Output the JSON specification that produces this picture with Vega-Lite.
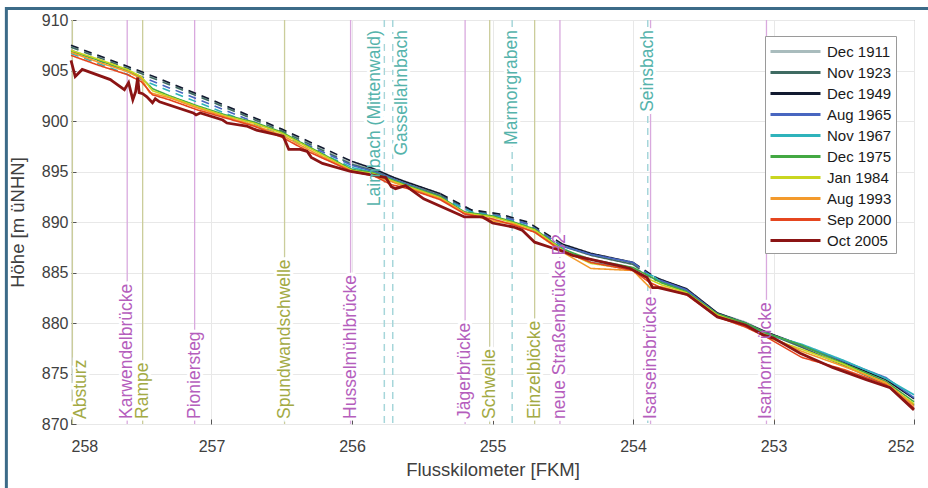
{
  "$schema": "https://vega.github.io/schema/vega-lite/v6.json",
  "width": 843,
  "height": 404,
  "autosize": {"type": "none"},
  "padding": {"left": 71, "top": 20, "right": 14, "bottom": 64},
  "background": "white",
  "config": {
    "font": "Liberation Sans",
    "view": {"stroke": "#9a9a9a", "strokeWidth": 1},
    "axis": {
      "grid": true, "gridColor": "#e8e8e8", "gridWidth": 1,
      "domain": false, "tickColor": "#555555", "tickSize": -5,
      "labelFontSize": 16, "labelColor": "#404040", "labelFont": "Liberation Sans",
      "titleFontSize": 18.5, "titleColor": "#404040", "titleFontWeight": "normal", "titleFont": "Liberation Sans"
    }
  },
  "datasets": {
    "landmarks": [
      {"name": "Absturz", "km": 257.99, "typ": "Bauwerk"},
      {"name": "Karwendelbrücke", "km": 257.6, "typ": "Brücke"},
      {"name": "Rampe", "km": 257.49, "typ": "Bauwerk"},
      {"name": "Pioniersteg", "km": 257.12, "typ": "Brücke"},
      {"name": "Spundwandschwelle", "km": 256.48, "typ": "Bauwerk"},
      {"name": "Husselmühlbrücke", "km": 256.01, "typ": "Brücke"},
      {"name": "Laimbach (Mittenwald)", "km": 255.77, "typ": "Zufluss"},
      {"name": "Gassellahnbach", "km": 255.71, "typ": "Zufluss"},
      {"name": "Jägerbrücke", "km": 255.195, "typ": "Brücke"},
      {"name": "Schwelle", "km": 255.02, "typ": "Bauwerk"},
      {"name": "Marmorgraben", "km": 254.86, "typ": "Zufluss"},
      {"name": "Einzelblöcke", "km": 254.7, "typ": "Bauwerk"},
      {"name": "neue Straßenbrücke B2", "km": 254.52, "typ": "Brücke"},
      {"name": "Seinsbach", "km": 253.895, "typ": "Zufluss"},
      {"name": "Isarseinsbrücke", "km": 253.875, "typ": "Brücke"},
      {"name": "Isarhornbrücke", "km": 253.05, "typ": "Brücke"}
    ],
    "profile": [
      {"messung": "Dec 1911", "abschnitt": 1, "art": "interpoliert", "km": 258.0, "hoehe": 907.4},
      {"messung": "Dec 1911", "abschnitt": 1, "art": "interpoliert", "km": 257.5, "hoehe": 904.8},
      {"messung": "Dec 1911", "abschnitt": 1, "art": "interpoliert", "km": 257.0, "hoehe": 902.0},
      {"messung": "Dec 1911", "abschnitt": 1, "art": "interpoliert", "km": 256.5, "hoehe": 899.1},
      {"messung": "Dec 1911", "abschnitt": 1, "art": "interpoliert", "km": 256.0, "hoehe": 895.8},
      {"messung": "Dec 1911", "abschnitt": 2, "art": "gemessen", "km": 256.0, "hoehe": 895.8},
      {"messung": "Dec 1911", "abschnitt": 2, "art": "gemessen", "km": 255.85, "hoehe": 895.2},
      {"messung": "Dec 1911", "abschnitt": 2, "art": "gemessen", "km": 255.75, "hoehe": 894.6},
      {"messung": "Dec 1911", "abschnitt": 2, "art": "gemessen", "km": 255.7, "hoehe": 894.3},
      {"messung": "Dec 1911", "abschnitt": 2, "art": "gemessen", "km": 255.6, "hoehe": 893.8},
      {"messung": "Dec 1911", "abschnitt": 2, "art": "gemessen", "km": 255.37, "hoehe": 892.7},
      {"messung": "Dec 1911", "abschnitt": 3, "art": "interpoliert", "km": 255.37, "hoehe": 892.7},
      {"messung": "Dec 1911", "abschnitt": 3, "art": "interpoliert", "km": 255.15, "hoehe": 891.2},
      {"messung": "Dec 1911", "abschnitt": 3, "art": "interpoliert", "km": 254.95, "hoehe": 890.7},
      {"messung": "Dec 1911", "abschnitt": 3, "art": "interpoliert", "km": 254.75, "hoehe": 889.9},
      {"messung": "Dec 1911", "abschnitt": 3, "art": "interpoliert", "km": 254.5, "hoehe": 887.7},
      {"messung": "Dec 1911", "abschnitt": 4, "art": "gemessen", "km": 254.5, "hoehe": 887.7},
      {"messung": "Dec 1911", "abschnitt": 4, "art": "gemessen", "km": 254.3, "hoehe": 886.8},
      {"messung": "Dec 1911", "abschnitt": 4, "art": "gemessen", "km": 254.0, "hoehe": 885.9},
      {"messung": "Dec 1911", "abschnitt": 5, "art": "interpoliert", "km": 254.0, "hoehe": 885.9},
      {"messung": "Dec 1911", "abschnitt": 5, "art": "interpoliert", "km": 253.85, "hoehe": 884.5},
      {"messung": "Dec 1911", "abschnitt": 6, "art": "gemessen", "km": 253.85, "hoehe": 884.5},
      {"messung": "Dec 1911", "abschnitt": 6, "art": "gemessen", "km": 253.8, "hoehe": 884.2},
      {"messung": "Dec 1911", "abschnitt": 6, "art": "gemessen", "km": 253.62, "hoehe": 883.4},
      {"messung": "Dec 1911", "abschnitt": 6, "art": "gemessen", "km": 253.4, "hoehe": 881.0},
      {"messung": "Dec 1911", "abschnitt": 6, "art": "gemessen", "km": 253.2, "hoehe": 880.1},
      {"messung": "Dec 1911", "abschnitt": 6, "art": "gemessen", "km": 253.05, "hoehe": 879.1},
      {"messung": "Dec 1911", "abschnitt": 6, "art": "gemessen", "km": 252.8, "hoehe": 877.7},
      {"messung": "Dec 1911", "abschnitt": 6, "art": "gemessen", "km": 252.5, "hoehe": 876.0},
      {"messung": "Dec 1911", "abschnitt": 6, "art": "gemessen", "km": 252.2, "hoehe": 874.3},
      {"messung": "Dec 1911", "abschnitt": 6, "art": "gemessen", "km": 252.0, "hoehe": 872.6},

      {"messung": "Nov 1923", "abschnitt": 1, "art": "interpoliert", "km": 258.0, "hoehe": 907.3},
      {"messung": "Nov 1923", "abschnitt": 1, "art": "interpoliert", "km": 257.5, "hoehe": 904.7},
      {"messung": "Nov 1923", "abschnitt": 1, "art": "interpoliert", "km": 257.0, "hoehe": 901.9},
      {"messung": "Nov 1923", "abschnitt": 1, "art": "interpoliert", "km": 256.5, "hoehe": 899.0},
      {"messung": "Nov 1923", "abschnitt": 1, "art": "interpoliert", "km": 256.0, "hoehe": 895.7},
      {"messung": "Nov 1923", "abschnitt": 2, "art": "gemessen", "km": 256.0, "hoehe": 895.7},
      {"messung": "Nov 1923", "abschnitt": 2, "art": "gemessen", "km": 255.85, "hoehe": 895.1},
      {"messung": "Nov 1923", "abschnitt": 2, "art": "gemessen", "km": 255.75, "hoehe": 894.5},
      {"messung": "Nov 1923", "abschnitt": 2, "art": "gemessen", "km": 255.7, "hoehe": 894.2},
      {"messung": "Nov 1923", "abschnitt": 2, "art": "gemessen", "km": 255.6, "hoehe": 893.7},
      {"messung": "Nov 1923", "abschnitt": 2, "art": "gemessen", "km": 255.37, "hoehe": 892.6},
      {"messung": "Nov 1923", "abschnitt": 3, "art": "interpoliert", "km": 255.37, "hoehe": 892.6},
      {"messung": "Nov 1923", "abschnitt": 3, "art": "interpoliert", "km": 255.15, "hoehe": 891.1},
      {"messung": "Nov 1923", "abschnitt": 3, "art": "interpoliert", "km": 254.95, "hoehe": 890.6},
      {"messung": "Nov 1923", "abschnitt": 3, "art": "interpoliert", "km": 254.75, "hoehe": 889.8},
      {"messung": "Nov 1923", "abschnitt": 3, "art": "interpoliert", "km": 254.5, "hoehe": 887.6},
      {"messung": "Nov 1923", "abschnitt": 4, "art": "gemessen", "km": 254.5, "hoehe": 887.6},
      {"messung": "Nov 1923", "abschnitt": 4, "art": "gemessen", "km": 254.3, "hoehe": 886.7},
      {"messung": "Nov 1923", "abschnitt": 4, "art": "gemessen", "km": 254.0, "hoehe": 885.8},
      {"messung": "Nov 1923", "abschnitt": 5, "art": "interpoliert", "km": 254.0, "hoehe": 885.8},
      {"messung": "Nov 1923", "abschnitt": 5, "art": "interpoliert", "km": 253.85, "hoehe": 884.3},
      {"messung": "Nov 1923", "abschnitt": 6, "art": "gemessen", "km": 253.85, "hoehe": 884.3},
      {"messung": "Nov 1923", "abschnitt": 6, "art": "gemessen", "km": 253.8, "hoehe": 884.1},
      {"messung": "Nov 1923", "abschnitt": 6, "art": "gemessen", "km": 253.62, "hoehe": 883.2},
      {"messung": "Nov 1923", "abschnitt": 6, "art": "gemessen", "km": 253.4, "hoehe": 880.9},
      {"messung": "Nov 1923", "abschnitt": 6, "art": "gemessen", "km": 253.2, "hoehe": 879.9},
      {"messung": "Nov 1923", "abschnitt": 6, "art": "gemessen", "km": 253.05, "hoehe": 879.0},
      {"messung": "Nov 1923", "abschnitt": 6, "art": "gemessen", "km": 252.8, "hoehe": 877.6},
      {"messung": "Nov 1923", "abschnitt": 6, "art": "gemessen", "km": 252.5, "hoehe": 875.8},
      {"messung": "Nov 1923", "abschnitt": 6, "art": "gemessen", "km": 252.2, "hoehe": 873.9},
      {"messung": "Nov 1923", "abschnitt": 6, "art": "gemessen", "km": 252.0, "hoehe": 871.9},

      {"messung": "Dec 1949", "abschnitt": 1, "art": "interpoliert", "km": 258.0, "hoehe": 907.5},
      {"messung": "Dec 1949", "abschnitt": 1, "art": "interpoliert", "km": 257.5, "hoehe": 904.9},
      {"messung": "Dec 1949", "abschnitt": 1, "art": "interpoliert", "km": 257.0, "hoehe": 902.1},
      {"messung": "Dec 1949", "abschnitt": 1, "art": "interpoliert", "km": 256.5, "hoehe": 899.2},
      {"messung": "Dec 1949", "abschnitt": 1, "art": "interpoliert", "km": 256.0, "hoehe": 896.0},
      {"messung": "Dec 1949", "abschnitt": 2, "art": "gemessen", "km": 256.0, "hoehe": 896.0},
      {"messung": "Dec 1949", "abschnitt": 2, "art": "gemessen", "km": 255.85, "hoehe": 895.3},
      {"messung": "Dec 1949", "abschnitt": 2, "art": "gemessen", "km": 255.75, "hoehe": 894.7},
      {"messung": "Dec 1949", "abschnitt": 2, "art": "gemessen", "km": 255.7, "hoehe": 894.4},
      {"messung": "Dec 1949", "abschnitt": 2, "art": "gemessen", "km": 255.6, "hoehe": 893.9},
      {"messung": "Dec 1949", "abschnitt": 2, "art": "gemessen", "km": 255.37, "hoehe": 892.8},
      {"messung": "Dec 1949", "abschnitt": 3, "art": "interpoliert", "km": 255.37, "hoehe": 892.8},
      {"messung": "Dec 1949", "abschnitt": 3, "art": "interpoliert", "km": 255.15, "hoehe": 891.2},
      {"messung": "Dec 1949", "abschnitt": 3, "art": "interpoliert", "km": 254.95, "hoehe": 890.8},
      {"messung": "Dec 1949", "abschnitt": 3, "art": "interpoliert", "km": 254.75, "hoehe": 890.0},
      {"messung": "Dec 1949", "abschnitt": 3, "art": "interpoliert", "km": 254.5, "hoehe": 887.8},
      {"messung": "Dec 1949", "abschnitt": 4, "art": "gemessen", "km": 254.5, "hoehe": 887.8},
      {"messung": "Dec 1949", "abschnitt": 4, "art": "gemessen", "km": 254.3, "hoehe": 886.9},
      {"messung": "Dec 1949", "abschnitt": 4, "art": "gemessen", "km": 254.0, "hoehe": 886.0},
      {"messung": "Dec 1949", "abschnitt": 5, "art": "interpoliert", "km": 254.0, "hoehe": 886.0},
      {"messung": "Dec 1949", "abschnitt": 5, "art": "interpoliert", "km": 253.85, "hoehe": 884.6},
      {"messung": "Dec 1949", "abschnitt": 6, "art": "gemessen", "km": 253.85, "hoehe": 884.6},
      {"messung": "Dec 1949", "abschnitt": 6, "art": "gemessen", "km": 253.8, "hoehe": 884.3},
      {"messung": "Dec 1949", "abschnitt": 6, "art": "gemessen", "km": 253.62, "hoehe": 883.4},
      {"messung": "Dec 1949", "abschnitt": 6, "art": "gemessen", "km": 253.4, "hoehe": 881.0},
      {"messung": "Dec 1949", "abschnitt": 6, "art": "gemessen", "km": 253.2, "hoehe": 880.0},
      {"messung": "Dec 1949", "abschnitt": 6, "art": "gemessen", "km": 253.05, "hoehe": 879.1},
      {"messung": "Dec 1949", "abschnitt": 6, "art": "gemessen", "km": 252.8, "hoehe": 877.8},
      {"messung": "Dec 1949", "abschnitt": 6, "art": "gemessen", "km": 252.5, "hoehe": 876.1},
      {"messung": "Dec 1949", "abschnitt": 6, "art": "gemessen", "km": 252.2, "hoehe": 874.4},
      {"messung": "Dec 1949", "abschnitt": 6, "art": "gemessen", "km": 252.0, "hoehe": 872.5},

      {"messung": "Aug 1965", "abschnitt": 1, "art": "interpoliert", "km": 258.0, "hoehe": 907.0},
      {"messung": "Aug 1965", "abschnitt": 1, "art": "interpoliert", "km": 257.5, "hoehe": 904.4},
      {"messung": "Aug 1965", "abschnitt": 1, "art": "interpoliert", "km": 257.0, "hoehe": 901.6},
      {"messung": "Aug 1965", "abschnitt": 1, "art": "interpoliert", "km": 256.5, "hoehe": 898.8},
      {"messung": "Aug 1965", "abschnitt": 1, "art": "interpoliert", "km": 256.0, "hoehe": 895.6},
      {"messung": "Aug 1965", "abschnitt": 2, "art": "gemessen", "km": 256.0, "hoehe": 895.6},
      {"messung": "Aug 1965", "abschnitt": 2, "art": "gemessen", "km": 255.85, "hoehe": 895.0},
      {"messung": "Aug 1965", "abschnitt": 2, "art": "gemessen", "km": 255.75, "hoehe": 894.5},
      {"messung": "Aug 1965", "abschnitt": 2, "art": "gemessen", "km": 255.7, "hoehe": 894.2},
      {"messung": "Aug 1965", "abschnitt": 2, "art": "gemessen", "km": 255.6, "hoehe": 893.7},
      {"messung": "Aug 1965", "abschnitt": 2, "art": "gemessen", "km": 255.37, "hoehe": 892.5},
      {"messung": "Aug 1965", "abschnitt": 3, "art": "interpoliert", "km": 255.37, "hoehe": 892.5},
      {"messung": "Aug 1965", "abschnitt": 3, "art": "interpoliert", "km": 255.15, "hoehe": 891.0},
      {"messung": "Aug 1965", "abschnitt": 3, "art": "interpoliert", "km": 254.95, "hoehe": 890.6},
      {"messung": "Aug 1965", "abschnitt": 3, "art": "interpoliert", "km": 254.75, "hoehe": 889.8},
      {"messung": "Aug 1965", "abschnitt": 3, "art": "interpoliert", "km": 254.5, "hoehe": 887.6},
      {"messung": "Aug 1965", "abschnitt": 4, "art": "gemessen", "km": 254.5, "hoehe": 887.6},
      {"messung": "Aug 1965", "abschnitt": 4, "art": "gemessen", "km": 254.3, "hoehe": 886.8},
      {"messung": "Aug 1965", "abschnitt": 4, "art": "gemessen", "km": 254.0, "hoehe": 886.0},
      {"messung": "Aug 1965", "abschnitt": 5, "art": "interpoliert", "km": 254.0, "hoehe": 886.0},
      {"messung": "Aug 1965", "abschnitt": 5, "art": "interpoliert", "km": 253.85, "hoehe": 884.4},
      {"messung": "Aug 1965", "abschnitt": 6, "art": "gemessen", "km": 253.85, "hoehe": 884.4},
      {"messung": "Aug 1965", "abschnitt": 6, "art": "gemessen", "km": 253.8, "hoehe": 884.2},
      {"messung": "Aug 1965", "abschnitt": 6, "art": "gemessen", "km": 253.62, "hoehe": 883.3},
      {"messung": "Aug 1965", "abschnitt": 6, "art": "gemessen", "km": 253.4, "hoehe": 880.9},
      {"messung": "Aug 1965", "abschnitt": 6, "art": "gemessen", "km": 253.2, "hoehe": 880.0},
      {"messung": "Aug 1965", "abschnitt": 6, "art": "gemessen", "km": 253.05, "hoehe": 879.0},
      {"messung": "Aug 1965", "abschnitt": 6, "art": "gemessen", "km": 252.8, "hoehe": 877.8},
      {"messung": "Aug 1965", "abschnitt": 6, "art": "gemessen", "km": 252.5, "hoehe": 876.2},
      {"messung": "Aug 1965", "abschnitt": 6, "art": "gemessen", "km": 252.2, "hoehe": 874.6},
      {"messung": "Aug 1965", "abschnitt": 6, "art": "gemessen", "km": 252.0, "hoehe": 872.6},

      {"messung": "Nov 1967", "abschnitt": 1, "art": "interpoliert", "km": 258.0, "hoehe": 906.7},
      {"messung": "Nov 1967", "abschnitt": 1, "art": "interpoliert", "km": 257.5, "hoehe": 904.1},
      {"messung": "Nov 1967", "abschnitt": 1, "art": "interpoliert", "km": 257.0, "hoehe": 901.3},
      {"messung": "Nov 1967", "abschnitt": 1, "art": "interpoliert", "km": 256.5, "hoehe": 898.6},
      {"messung": "Nov 1967", "abschnitt": 1, "art": "interpoliert", "km": 256.0, "hoehe": 895.4},
      {"messung": "Nov 1967", "abschnitt": 2, "art": "gemessen", "km": 256.0, "hoehe": 895.4},
      {"messung": "Nov 1967", "abschnitt": 2, "art": "gemessen", "km": 255.85, "hoehe": 894.9},
      {"messung": "Nov 1967", "abschnitt": 2, "art": "gemessen", "km": 255.75, "hoehe": 894.4},
      {"messung": "Nov 1967", "abschnitt": 2, "art": "gemessen", "km": 255.7, "hoehe": 894.1},
      {"messung": "Nov 1967", "abschnitt": 2, "art": "gemessen", "km": 255.6, "hoehe": 893.6},
      {"messung": "Nov 1967", "abschnitt": 2, "art": "gemessen", "km": 255.37, "hoehe": 892.4},
      {"messung": "Nov 1967", "abschnitt": 3, "art": "interpoliert", "km": 255.37, "hoehe": 892.4},
      {"messung": "Nov 1967", "abschnitt": 3, "art": "interpoliert", "km": 255.15, "hoehe": 891.0},
      {"messung": "Nov 1967", "abschnitt": 3, "art": "interpoliert", "km": 254.95, "hoehe": 890.5},
      {"messung": "Nov 1967", "abschnitt": 3, "art": "interpoliert", "km": 254.75, "hoehe": 889.6},
      {"messung": "Nov 1967", "abschnitt": 3, "art": "interpoliert", "km": 254.5, "hoehe": 887.4},
      {"messung": "Nov 1967", "abschnitt": 4, "art": "gemessen", "km": 254.5, "hoehe": 887.4},
      {"messung": "Nov 1967", "abschnitt": 4, "art": "gemessen", "km": 254.3, "hoehe": 886.0},
      {"messung": "Nov 1967", "abschnitt": 4, "art": "gemessen", "km": 254.0, "hoehe": 885.4},
      {"messung": "Nov 1967", "abschnitt": 5, "art": "interpoliert", "km": 254.0, "hoehe": 885.4},
      {"messung": "Nov 1967", "abschnitt": 5, "art": "interpoliert", "km": 253.85, "hoehe": 884.6},
      {"messung": "Nov 1967", "abschnitt": 6, "art": "gemessen", "km": 253.85, "hoehe": 884.6},
      {"messung": "Nov 1967", "abschnitt": 6, "art": "gemessen", "km": 253.8, "hoehe": 884.0},
      {"messung": "Nov 1967", "abschnitt": 6, "art": "gemessen", "km": 253.62, "hoehe": 883.1},
      {"messung": "Nov 1967", "abschnitt": 6, "art": "gemessen", "km": 253.4, "hoehe": 880.7},
      {"messung": "Nov 1967", "abschnitt": 6, "art": "gemessen", "km": 253.2, "hoehe": 879.9},
      {"messung": "Nov 1967", "abschnitt": 6, "art": "gemessen", "km": 253.05, "hoehe": 878.9},
      {"messung": "Nov 1967", "abschnitt": 6, "art": "gemessen", "km": 252.8, "hoehe": 877.9},
      {"messung": "Nov 1967", "abschnitt": 6, "art": "gemessen", "km": 252.5, "hoehe": 876.3},
      {"messung": "Nov 1967", "abschnitt": 6, "art": "gemessen", "km": 252.2, "hoehe": 874.5},
      {"messung": "Nov 1967", "abschnitt": 6, "art": "gemessen", "km": 252.0, "hoehe": 872.9},

      {"messung": "Dec 1975", "abschnitt": 1, "art": "gemessen", "km": 258.0, "hoehe": 906.9},
      {"messung": "Dec 1975", "abschnitt": 1, "art": "gemessen", "km": 257.8, "hoehe": 906.0},
      {"messung": "Dec 1975", "abschnitt": 1, "art": "gemessen", "km": 257.6, "hoehe": 905.0},
      {"messung": "Dec 1975", "abschnitt": 1, "art": "gemessen", "km": 257.5, "hoehe": 904.3},
      {"messung": "Dec 1975", "abschnitt": 1, "art": "gemessen", "km": 257.42, "hoehe": 903.2},
      {"messung": "Dec 1975", "abschnitt": 1, "art": "gemessen", "km": 257.3, "hoehe": 902.5},
      {"messung": "Dec 1975", "abschnitt": 1, "art": "gemessen", "km": 257.1, "hoehe": 901.5},
      {"messung": "Dec 1975", "abschnitt": 1, "art": "gemessen", "km": 256.9, "hoehe": 900.6},
      {"messung": "Dec 1975", "abschnitt": 1, "art": "gemessen", "km": 256.7, "hoehe": 899.9},
      {"messung": "Dec 1975", "abschnitt": 1, "art": "gemessen", "km": 256.5, "hoehe": 898.9},
      {"messung": "Dec 1975", "abschnitt": 1, "art": "gemessen", "km": 256.3, "hoehe": 897.4},
      {"messung": "Dec 1975", "abschnitt": 1, "art": "gemessen", "km": 256.0, "hoehe": 895.2},
      {"messung": "Dec 1975", "abschnitt": 1, "art": "gemessen", "km": 255.85, "hoehe": 894.9},
      {"messung": "Dec 1975", "abschnitt": 1, "art": "gemessen", "km": 255.72, "hoehe": 894.2},
      {"messung": "Dec 1975", "abschnitt": 1, "art": "gemessen", "km": 255.6, "hoehe": 893.6},
      {"messung": "Dec 1975", "abschnitt": 1, "art": "gemessen", "km": 255.37, "hoehe": 892.5},
      {"messung": "Dec 1975", "abschnitt": 1, "art": "gemessen", "km": 255.2, "hoehe": 891.0},
      {"messung": "Dec 1975", "abschnitt": 1, "art": "gemessen", "km": 255.0, "hoehe": 890.6},
      {"messung": "Dec 1975", "abschnitt": 1, "art": "gemessen", "km": 254.85, "hoehe": 890.0},
      {"messung": "Dec 1975", "abschnitt": 1, "art": "gemessen", "km": 254.7, "hoehe": 889.3},
      {"messung": "Dec 1975", "abschnitt": 1, "art": "gemessen", "km": 254.5, "hoehe": 887.3},
      {"messung": "Dec 1975", "abschnitt": 1, "art": "gemessen", "km": 254.3, "hoehe": 886.3},
      {"messung": "Dec 1975", "abschnitt": 1, "art": "gemessen", "km": 254.0, "hoehe": 885.5},
      {"messung": "Dec 1975", "abschnitt": 1, "art": "gemessen", "km": 253.88, "hoehe": 884.6},
      {"messung": "Dec 1975", "abschnitt": 1, "art": "gemessen", "km": 253.8, "hoehe": 884.0},
      {"messung": "Dec 1975", "abschnitt": 1, "art": "gemessen", "km": 253.62, "hoehe": 883.1},
      {"messung": "Dec 1975", "abschnitt": 1, "art": "gemessen", "km": 253.4, "hoehe": 880.9},
      {"messung": "Dec 1975", "abschnitt": 1, "art": "gemessen", "km": 253.2, "hoehe": 880.0},
      {"messung": "Dec 1975", "abschnitt": 1, "art": "gemessen", "km": 253.05, "hoehe": 879.0},
      {"messung": "Dec 1975", "abschnitt": 1, "art": "gemessen", "km": 252.8, "hoehe": 877.8},
      {"messung": "Dec 1975", "abschnitt": 1, "art": "gemessen", "km": 252.5, "hoehe": 876.0},
      {"messung": "Dec 1975", "abschnitt": 1, "art": "gemessen", "km": 252.2, "hoehe": 874.2},
      {"messung": "Dec 1975", "abschnitt": 1, "art": "gemessen", "km": 252.0, "hoehe": 872.2},

      {"messung": "Jan 1984", "abschnitt": 1, "art": "gemessen", "km": 258.0, "hoehe": 907.0},
      {"messung": "Jan 1984", "abschnitt": 1, "art": "gemessen", "km": 257.8, "hoehe": 906.1},
      {"messung": "Jan 1984", "abschnitt": 1, "art": "gemessen", "km": 257.6, "hoehe": 905.1},
      {"messung": "Jan 1984", "abschnitt": 1, "art": "gemessen", "km": 257.5, "hoehe": 904.4},
      {"messung": "Jan 1984", "abschnitt": 1, "art": "gemessen", "km": 257.42, "hoehe": 903.0},
      {"messung": "Jan 1984", "abschnitt": 1, "art": "gemessen", "km": 257.3, "hoehe": 902.4},
      {"messung": "Jan 1984", "abschnitt": 1, "art": "gemessen", "km": 257.1, "hoehe": 901.4},
      {"messung": "Jan 1984", "abschnitt": 1, "art": "gemessen", "km": 256.9, "hoehe": 900.5},
      {"messung": "Jan 1984", "abschnitt": 1, "art": "gemessen", "km": 256.7, "hoehe": 899.8},
      {"messung": "Jan 1984", "abschnitt": 1, "art": "gemessen", "km": 256.5, "hoehe": 898.8},
      {"messung": "Jan 1984", "abschnitt": 1, "art": "gemessen", "km": 256.3, "hoehe": 897.3},
      {"messung": "Jan 1984", "abschnitt": 1, "art": "gemessen", "km": 256.0, "hoehe": 895.1},
      {"messung": "Jan 1984", "abschnitt": 1, "art": "gemessen", "km": 255.85, "hoehe": 894.8},
      {"messung": "Jan 1984", "abschnitt": 1, "art": "gemessen", "km": 255.72, "hoehe": 894.1},
      {"messung": "Jan 1984", "abschnitt": 1, "art": "gemessen", "km": 255.6, "hoehe": 893.5},
      {"messung": "Jan 1984", "abschnitt": 1, "art": "gemessen", "km": 255.37, "hoehe": 892.4},
      {"messung": "Jan 1984", "abschnitt": 1, "art": "gemessen", "km": 255.2, "hoehe": 890.9},
      {"messung": "Jan 1984", "abschnitt": 1, "art": "gemessen", "km": 255.0, "hoehe": 890.5},
      {"messung": "Jan 1984", "abschnitt": 1, "art": "gemessen", "km": 254.85, "hoehe": 889.9},
      {"messung": "Jan 1984", "abschnitt": 1, "art": "gemessen", "km": 254.7, "hoehe": 889.2},
      {"messung": "Jan 1984", "abschnitt": 1, "art": "gemessen", "km": 254.5, "hoehe": 887.2},
      {"messung": "Jan 1984", "abschnitt": 1, "art": "gemessen", "km": 254.3, "hoehe": 885.9},
      {"messung": "Jan 1984", "abschnitt": 1, "art": "gemessen", "km": 254.0, "hoehe": 885.3},
      {"messung": "Jan 1984", "abschnitt": 1, "art": "gemessen", "km": 253.88, "hoehe": 884.3},
      {"messung": "Jan 1984", "abschnitt": 1, "art": "gemessen", "km": 253.8, "hoehe": 883.8},
      {"messung": "Jan 1984", "abschnitt": 1, "art": "gemessen", "km": 253.62, "hoehe": 883.0},
      {"messung": "Jan 1984", "abschnitt": 1, "art": "gemessen", "km": 253.4, "hoehe": 880.8},
      {"messung": "Jan 1984", "abschnitt": 1, "art": "gemessen", "km": 253.2, "hoehe": 879.8},
      {"messung": "Jan 1984", "abschnitt": 1, "art": "gemessen", "km": 253.05, "hoehe": 878.6},
      {"messung": "Jan 1984", "abschnitt": 1, "art": "gemessen", "km": 252.8, "hoehe": 877.4},
      {"messung": "Jan 1984", "abschnitt": 1, "art": "gemessen", "km": 252.5, "hoehe": 875.9},
      {"messung": "Jan 1984", "abschnitt": 1, "art": "gemessen", "km": 252.2, "hoehe": 874.0},
      {"messung": "Jan 1984", "abschnitt": 1, "art": "gemessen", "km": 252.0, "hoehe": 872.0},

      {"messung": "Aug 1993", "abschnitt": 1, "art": "gemessen", "km": 258.0, "hoehe": 906.8},
      {"messung": "Aug 1993", "abschnitt": 1, "art": "gemessen", "km": 257.8, "hoehe": 905.8},
      {"messung": "Aug 1993", "abschnitt": 1, "art": "gemessen", "km": 257.6, "hoehe": 904.9},
      {"messung": "Aug 1993", "abschnitt": 1, "art": "gemessen", "km": 257.5, "hoehe": 904.2},
      {"messung": "Aug 1993", "abschnitt": 1, "art": "gemessen", "km": 257.44, "hoehe": 902.8},
      {"messung": "Aug 1993", "abschnitt": 1, "art": "gemessen", "km": 257.3, "hoehe": 902.3},
      {"messung": "Aug 1993", "abschnitt": 1, "art": "gemessen", "km": 257.1, "hoehe": 901.3},
      {"messung": "Aug 1993", "abschnitt": 1, "art": "gemessen", "km": 256.9, "hoehe": 900.4},
      {"messung": "Aug 1993", "abschnitt": 1, "art": "gemessen", "km": 256.7, "hoehe": 899.6},
      {"messung": "Aug 1993", "abschnitt": 1, "art": "gemessen", "km": 256.5, "hoehe": 898.6},
      {"messung": "Aug 1993", "abschnitt": 1, "art": "gemessen", "km": 256.3, "hoehe": 897.1},
      {"messung": "Aug 1993", "abschnitt": 1, "art": "gemessen", "km": 256.0, "hoehe": 895.0},
      {"messung": "Aug 1993", "abschnitt": 1, "art": "gemessen", "km": 255.85, "hoehe": 894.6},
      {"messung": "Aug 1993", "abschnitt": 1, "art": "gemessen", "km": 255.72, "hoehe": 894.0},
      {"messung": "Aug 1993", "abschnitt": 1, "art": "gemessen", "km": 255.6, "hoehe": 893.4},
      {"messung": "Aug 1993", "abschnitt": 1, "art": "gemessen", "km": 255.37, "hoehe": 892.3},
      {"messung": "Aug 1993", "abschnitt": 1, "art": "gemessen", "km": 255.2, "hoehe": 890.9},
      {"messung": "Aug 1993", "abschnitt": 1, "art": "gemessen", "km": 255.0, "hoehe": 890.1},
      {"messung": "Aug 1993", "abschnitt": 1, "art": "gemessen", "km": 254.85, "hoehe": 889.8},
      {"messung": "Aug 1993", "abschnitt": 1, "art": "gemessen", "km": 254.7, "hoehe": 889.0},
      {"messung": "Aug 1993", "abschnitt": 1, "art": "gemessen", "km": 254.5, "hoehe": 887.0},
      {"messung": "Aug 1993", "abschnitt": 1, "art": "gemessen", "km": 254.3, "hoehe": 885.4},
      {"messung": "Aug 1993", "abschnitt": 1, "art": "gemessen", "km": 254.0, "hoehe": 885.2},
      {"messung": "Aug 1993", "abschnitt": 1, "art": "gemessen", "km": 253.88, "hoehe": 883.5},
      {"messung": "Aug 1993", "abschnitt": 1, "art": "gemessen", "km": 253.8, "hoehe": 883.6},
      {"messung": "Aug 1993", "abschnitt": 1, "art": "gemessen", "km": 253.62, "hoehe": 882.9},
      {"messung": "Aug 1993", "abschnitt": 1, "art": "gemessen", "km": 253.4, "hoehe": 880.7},
      {"messung": "Aug 1993", "abschnitt": 1, "art": "gemessen", "km": 253.2, "hoehe": 879.7},
      {"messung": "Aug 1993", "abschnitt": 1, "art": "gemessen", "km": 253.05, "hoehe": 878.8},
      {"messung": "Aug 1993", "abschnitt": 1, "art": "gemessen", "km": 252.8, "hoehe": 877.2},
      {"messung": "Aug 1993", "abschnitt": 1, "art": "gemessen", "km": 252.5, "hoehe": 875.7},
      {"messung": "Aug 1993", "abschnitt": 1, "art": "gemessen", "km": 252.2, "hoehe": 874.1},
      {"messung": "Aug 1993", "abschnitt": 1, "art": "gemessen", "km": 252.0, "hoehe": 871.8},

      {"messung": "Sep 2000", "abschnitt": 1, "art": "gemessen", "km": 258.0, "hoehe": 906.5},
      {"messung": "Sep 2000", "abschnitt": 1, "art": "gemessen", "km": 257.8, "hoehe": 905.5},
      {"messung": "Sep 2000", "abschnitt": 1, "art": "gemessen", "km": 257.6, "hoehe": 904.6},
      {"messung": "Sep 2000", "abschnitt": 1, "art": "gemessen", "km": 257.5, "hoehe": 903.9},
      {"messung": "Sep 2000", "abschnitt": 1, "art": "gemessen", "km": 257.42, "hoehe": 902.6},
      {"messung": "Sep 2000", "abschnitt": 1, "art": "gemessen", "km": 257.3, "hoehe": 902.1},
      {"messung": "Sep 2000", "abschnitt": 1, "art": "gemessen", "km": 257.1, "hoehe": 901.1},
      {"messung": "Sep 2000", "abschnitt": 1, "art": "gemessen", "km": 256.9, "hoehe": 900.3},
      {"messung": "Sep 2000", "abschnitt": 1, "art": "gemessen", "km": 256.7, "hoehe": 899.5},
      {"messung": "Sep 2000", "abschnitt": 1, "art": "gemessen", "km": 256.5, "hoehe": 898.4},
      {"messung": "Sep 2000", "abschnitt": 1, "art": "gemessen", "km": 256.3, "hoehe": 896.9},
      {"messung": "Sep 2000", "abschnitt": 1, "art": "gemessen", "km": 256.0, "hoehe": 895.0},
      {"messung": "Sep 2000", "abschnitt": 1, "art": "gemessen", "km": 255.85, "hoehe": 894.6},
      {"messung": "Sep 2000", "abschnitt": 1, "art": "gemessen", "km": 255.72, "hoehe": 893.7},
      {"messung": "Sep 2000", "abschnitt": 1, "art": "gemessen", "km": 255.6, "hoehe": 893.3},
      {"messung": "Sep 2000", "abschnitt": 1, "art": "gemessen", "km": 255.37, "hoehe": 892.2},
      {"messung": "Sep 2000", "abschnitt": 1, "art": "gemessen", "km": 255.2, "hoehe": 890.8},
      {"messung": "Sep 2000", "abschnitt": 1, "art": "gemessen", "km": 255.0, "hoehe": 890.3},
      {"messung": "Sep 2000", "abschnitt": 1, "art": "gemessen", "km": 254.85, "hoehe": 889.7},
      {"messung": "Sep 2000", "abschnitt": 1, "art": "gemessen", "km": 254.7, "hoehe": 889.0},
      {"messung": "Sep 2000", "abschnitt": 1, "art": "gemessen", "km": 254.5, "hoehe": 887.1},
      {"messung": "Sep 2000", "abschnitt": 1, "art": "gemessen", "km": 254.3, "hoehe": 886.0},
      {"messung": "Sep 2000", "abschnitt": 1, "art": "gemessen", "km": 254.0, "hoehe": 885.2},
      {"messung": "Sep 2000", "abschnitt": 1, "art": "gemessen", "km": 253.88, "hoehe": 884.0},
      {"messung": "Sep 2000", "abschnitt": 1, "art": "gemessen", "km": 253.8, "hoehe": 883.5},
      {"messung": "Sep 2000", "abschnitt": 1, "art": "gemessen", "km": 253.62, "hoehe": 882.8},
      {"messung": "Sep 2000", "abschnitt": 1, "art": "gemessen", "km": 253.4, "hoehe": 880.6},
      {"messung": "Sep 2000", "abschnitt": 1, "art": "gemessen", "km": 253.2, "hoehe": 879.6},
      {"messung": "Sep 2000", "abschnitt": 1, "art": "gemessen", "km": 253.05, "hoehe": 878.6},
      {"messung": "Sep 2000", "abschnitt": 1, "art": "gemessen", "km": 252.8, "hoehe": 876.6},
      {"messung": "Sep 2000", "abschnitt": 1, "art": "gemessen", "km": 252.5, "hoehe": 875.4},
      {"messung": "Sep 2000", "abschnitt": 1, "art": "gemessen", "km": 252.2, "hoehe": 873.9},
      {"messung": "Sep 2000", "abschnitt": 1, "art": "gemessen", "km": 252.0, "hoehe": 871.6},

      {"messung": "Oct 2005", "abschnitt": 1, "art": "gemessen", "km": 258.0, "hoehe": 906.0},
      {"messung": "Oct 2005", "abschnitt": 1, "art": "gemessen", "km": 257.97, "hoehe": 904.4},
      {"messung": "Oct 2005", "abschnitt": 1, "art": "gemessen", "km": 257.92, "hoehe": 905.1},
      {"messung": "Oct 2005", "abschnitt": 1, "art": "gemessen", "km": 257.72, "hoehe": 904.1},
      {"messung": "Oct 2005", "abschnitt": 1, "art": "gemessen", "km": 257.7, "hoehe": 903.9},
      {"messung": "Oct 2005", "abschnitt": 1, "art": "gemessen", "km": 257.62, "hoehe": 903.1},
      {"messung": "Oct 2005", "abschnitt": 1, "art": "gemessen", "km": 257.59, "hoehe": 903.8},
      {"messung": "Oct 2005", "abschnitt": 1, "art": "gemessen", "km": 257.56, "hoehe": 902.1},
      {"messung": "Oct 2005", "abschnitt": 1, "art": "gemessen", "km": 257.54, "hoehe": 902.9},
      {"messung": "Oct 2005", "abschnitt": 1, "art": "gemessen", "km": 257.525, "hoehe": 904.3},
      {"messung": "Oct 2005", "abschnitt": 1, "art": "gemessen", "km": 257.515, "hoehe": 902.8},
      {"messung": "Oct 2005", "abschnitt": 1, "art": "gemessen", "km": 257.49, "hoehe": 902.7},
      {"messung": "Oct 2005", "abschnitt": 1, "art": "gemessen", "km": 257.46, "hoehe": 902.4},
      {"messung": "Oct 2005", "abschnitt": 1, "art": "gemessen", "km": 257.42, "hoehe": 901.8},
      {"messung": "Oct 2005", "abschnitt": 1, "art": "gemessen", "km": 257.4, "hoehe": 902.2},
      {"messung": "Oct 2005", "abschnitt": 1, "art": "gemessen", "km": 257.37, "hoehe": 901.9},
      {"messung": "Oct 2005", "abschnitt": 1, "art": "gemessen", "km": 257.13, "hoehe": 900.8},
      {"messung": "Oct 2005", "abschnitt": 1, "art": "gemessen", "km": 257.11, "hoehe": 900.6},
      {"messung": "Oct 2005", "abschnitt": 1, "art": "gemessen", "km": 257.08, "hoehe": 900.8},
      {"messung": "Oct 2005", "abschnitt": 1, "art": "gemessen", "km": 256.92, "hoehe": 900.1},
      {"messung": "Oct 2005", "abschnitt": 1, "art": "gemessen", "km": 256.89, "hoehe": 899.8},
      {"messung": "Oct 2005", "abschnitt": 1, "art": "gemessen", "km": 256.75, "hoehe": 899.5},
      {"messung": "Oct 2005", "abschnitt": 1, "art": "gemessen", "km": 256.68, "hoehe": 899.1},
      {"messung": "Oct 2005", "abschnitt": 1, "art": "gemessen", "km": 256.49, "hoehe": 898.5},
      {"messung": "Oct 2005", "abschnitt": 1, "art": "gemessen", "km": 256.45, "hoehe": 897.2},
      {"messung": "Oct 2005", "abschnitt": 1, "art": "gemessen", "km": 256.37, "hoehe": 897.2},
      {"messung": "Oct 2005", "abschnitt": 1, "art": "gemessen", "km": 256.32, "hoehe": 897.0},
      {"messung": "Oct 2005", "abschnitt": 1, "art": "gemessen", "km": 256.29, "hoehe": 896.4},
      {"messung": "Oct 2005", "abschnitt": 1, "art": "gemessen", "km": 256.21, "hoehe": 895.8},
      {"messung": "Oct 2005", "abschnitt": 1, "art": "gemessen", "km": 256.01, "hoehe": 895.0},
      {"messung": "Oct 2005", "abschnitt": 1, "art": "gemessen", "km": 255.85, "hoehe": 894.65},
      {"messung": "Oct 2005", "abschnitt": 1, "art": "gemessen", "km": 255.76, "hoehe": 894.4},
      {"messung": "Oct 2005", "abschnitt": 1, "art": "gemessen", "km": 255.72, "hoehe": 893.5},
      {"messung": "Oct 2005", "abschnitt": 1, "art": "gemessen", "km": 255.69, "hoehe": 893.3},
      {"messung": "Oct 2005", "abschnitt": 1, "art": "gemessen", "km": 255.62, "hoehe": 893.6},
      {"messung": "Oct 2005", "abschnitt": 1, "art": "gemessen", "km": 255.49, "hoehe": 892.3},
      {"messung": "Oct 2005", "abschnitt": 1, "art": "gemessen", "km": 255.23, "hoehe": 890.7},
      {"messung": "Oct 2005", "abschnitt": 1, "art": "gemessen", "km": 255.2, "hoehe": 890.5},
      {"messung": "Oct 2005", "abschnitt": 1, "art": "gemessen", "km": 255.07, "hoehe": 890.5},
      {"messung": "Oct 2005", "abschnitt": 1, "art": "gemessen", "km": 255.0, "hoehe": 889.9},
      {"messung": "Oct 2005", "abschnitt": 1, "art": "gemessen", "km": 254.85, "hoehe": 889.5},
      {"messung": "Oct 2005", "abschnitt": 1, "art": "gemessen", "km": 254.79, "hoehe": 889.2},
      {"messung": "Oct 2005", "abschnitt": 1, "art": "gemessen", "km": 254.7, "hoehe": 888.0},
      {"messung": "Oct 2005", "abschnitt": 1, "art": "gemessen", "km": 254.59, "hoehe": 887.5},
      {"messung": "Oct 2005", "abschnitt": 1, "art": "gemessen", "km": 254.52, "hoehe": 887.2},
      {"messung": "Oct 2005", "abschnitt": 1, "art": "gemessen", "km": 254.43, "hoehe": 886.7},
      {"messung": "Oct 2005", "abschnitt": 1, "art": "gemessen", "km": 254.11, "hoehe": 885.7},
      {"messung": "Oct 2005", "abschnitt": 1, "art": "gemessen", "km": 254.02, "hoehe": 885.4},
      {"messung": "Oct 2005", "abschnitt": 1, "art": "gemessen", "km": 253.9, "hoehe": 884.5},
      {"messung": "Oct 2005", "abschnitt": 1, "art": "gemessen", "km": 253.86, "hoehe": 883.5},
      {"messung": "Oct 2005", "abschnitt": 1, "art": "gemessen", "km": 253.82, "hoehe": 883.5},
      {"messung": "Oct 2005", "abschnitt": 1, "art": "gemessen", "km": 253.61, "hoehe": 882.8},
      {"messung": "Oct 2005", "abschnitt": 1, "art": "gemessen", "km": 253.4, "hoehe": 880.6},
      {"messung": "Oct 2005", "abschnitt": 1, "art": "gemessen", "km": 253.2, "hoehe": 879.8},
      {"messung": "Oct 2005", "abschnitt": 1, "art": "gemessen", "km": 253.07, "hoehe": 878.8},
      {"messung": "Oct 2005", "abschnitt": 1, "art": "gemessen", "km": 253.0, "hoehe": 878.5},
      {"messung": "Oct 2005", "abschnitt": 1, "art": "gemessen", "km": 252.81, "hoehe": 877.0},
      {"messung": "Oct 2005", "abschnitt": 1, "art": "gemessen", "km": 252.58, "hoehe": 875.6},
      {"messung": "Oct 2005", "abschnitt": 1, "art": "gemessen", "km": 252.34, "hoehe": 874.4},
      {"messung": "Oct 2005", "abschnitt": 1, "art": "gemessen", "km": 252.17, "hoehe": 873.6},
      {"messung": "Oct 2005", "abschnitt": 1, "art": "gemessen", "km": 252.0, "hoehe": 871.4}
    ]
  },
  "layer": [
    {
      "data": {"values": [{}]},
      "mark": {"type": "rect", "filled": false, "stroke": "#3c6b88", "strokeWidth": 3, "clip": false},
      "encoding": {
        "x": {"datum": 258.46, "type": "quantitative", "scale": {"domain": [252, 258], "reverse": true, "nice": false, "zero": false}},
        "x2": {"datum": 251.8},
        "y": {"datum": 911.15, "type": "quantitative", "scale": {"domain": [870, 910], "nice": false, "zero": false}},
        "y2": {"datum": 860}
      }
    },
    {
      "data": {"name": "landmarks"},
      "transform": [{"filter": "datum.typ !== 'Zufluss'"}],
      "mark": {"type": "rule", "strokeWidth": 1.3},
      "encoding": {
        "x": {"field": "km", "type": "quantitative"},
        "stroke": {"field": "typ", "type": "nominal", "legend": null,
          "scale": {"domain": ["Brücke", "Bauwerk"], "range": ["#d9a9de", "#cbcd9b"]}}
      }
    },
    {
      "data": {"name": "landmarks"},
      "transform": [{"filter": "datum.typ === 'Zufluss'"}],
      "mark": {"type": "rule", "strokeWidth": 1.5, "color": "#a6d6da", "strokeDash": [7, 5]},
      "encoding": {"x": {"field": "km", "type": "quantitative"}}
    },
    {
      "data": {"name": "landmarks"},
      "transform": [{"filter": "datum.typ !== 'Zufluss' && datum.name !== 'Absturz'"}],
      "mark": {"type": "text", "angle": 270, "align": "left", "baseline": "middle", "fontSize": 17.5, "fill": "white", "stroke": "white", "strokeWidth": 6},
      "encoding": {"x": {"field": "km", "type": "quantitative"}, "y": {"datum": 870.5, "type": "quantitative"}, "text": {"field": "name"}}
    },
    {
      "data": {"name": "landmarks"},
      "transform": [{"filter": "datum.name === 'Absturz'"}],
      "mark": {"type": "text", "angle": 270, "align": "left", "baseline": "top", "fontSize": 17.5, "fill": "white", "stroke": "white", "strokeWidth": 6},
      "encoding": {"x": {"field": "km", "type": "quantitative"}, "y": {"datum": 870.5, "type": "quantitative"}, "text": {"field": "name"}}
    },
    {
      "data": {"name": "landmarks"},
      "transform": [{"filter": "datum.typ === 'Zufluss' && datum.name !== 'Laimbach (Mittenwald)' && datum.name !== 'Gassellahnbach'"}],
      "mark": {"type": "text", "angle": 270, "align": "right", "baseline": "middle", "fontSize": 17.5, "fill": "white", "stroke": "white", "strokeWidth": 6},
      "encoding": {"x": {"field": "km", "type": "quantitative"}, "y": {"datum": 909, "type": "quantitative"}, "text": {"field": "name"}}
    },
    {
      "data": {"name": "landmarks"},
      "transform": [{"filter": "datum.name === 'Laimbach (Mittenwald)'"}],
      "mark": {"type": "text", "angle": 270, "align": "right", "baseline": "bottom", "fontSize": 17.5, "fill": "white", "stroke": "white", "strokeWidth": 6},
      "encoding": {"x": {"field": "km", "type": "quantitative"}, "y": {"datum": 909, "type": "quantitative"}, "text": {"field": "name"}}
    },
    {
      "data": {"name": "landmarks"},
      "transform": [{"filter": "datum.name === 'Gassellahnbach'"}],
      "mark": {"type": "text", "angle": 270, "align": "right", "baseline": "top", "fontSize": 17.5, "fill": "white", "stroke": "white", "strokeWidth": 6},
      "encoding": {"x": {"field": "km", "type": "quantitative"}, "y": {"datum": 909, "type": "quantitative"}, "text": {"field": "name"}}
    },
    {
      "data": {"name": "profile"},
      "transform": [{"filter": "datum.messung !== 'Oct 2005'"}],
      "mark": {"type": "line", "strokeWidth": 1.6},
      "encoding": {
        "x": {"field": "km", "type": "quantitative", "axis": {"title": "Flusskilometer [FKM]", "values": [252, 253, 254, 255, 256, 257, 258], "format": "d", "labelPadding": 19, "titlePadding": 6}},
        "y": {"field": "hoehe", "type": "quantitative", "axis": {"title": "Höhe [m üNHN]", "values": [870, 875, 880, 885, 890, 895, 900, 905, 910], "labelPadding": 8, "titlePadding": 14}},
        "color": {"field": "messung", "type": "nominal",
          "scale": {"domain": ["Dec 1911", "Nov 1923", "Dec 1949", "Aug 1965", "Nov 1967", "Dec 1975", "Jan 1984", "Aug 1993", "Sep 2000", "Oct 2005"],
                    "range": ["#a9bcbd", "#3f6b62", "#121a30", "#4866c0", "#2fb3bb", "#43a842", "#c9d620", "#f39a2c", "#e5461f", "#8b1414"]},
          "legend": {"title": null, "orient": "none", "legendX": 694, "legendY": 16, "symbolType": "M-1,0L4,0", "symbolSize": 400, "symbolStrokeWidth": 3, "labelFontSize": 15, "labelColor": "#1a1a1a", "labelFont": "Liberation Sans", "strokeColor": "#9a9a9a", "fillColor": "white", "padding": 4, "rowPadding": 1, "labelOffset": 35}},
        "detail": {"field": "abschnitt"},
        "strokeDash": {"field": "art", "type": "nominal", "legend": null, "scale": {"domain": ["gemessen", "interpoliert"], "range": [[1, 0], [8, 6]]}}
      }
    },
    {
      "data": {"name": "profile"},
      "transform": [{"filter": "datum.messung === 'Oct 2005'"}],
      "mark": {"type": "line", "strokeWidth": 2.8},
      "encoding": {
        "x": {"field": "km", "type": "quantitative"},
        "y": {"field": "hoehe", "type": "quantitative"},
        "color": {"field": "messung", "type": "nominal"}
      }
    },
    {
      "data": {"name": "landmarks"},
      "transform": [{"filter": "datum.typ !== 'Zufluss' && datum.name !== 'Absturz'"}],
      "mark": {"type": "text", "angle": 270, "align": "left", "baseline": "middle", "fontSize": 17.5},
      "encoding": {"x": {"field": "km", "type": "quantitative"}, "y": {"datum": 870.5, "type": "quantitative"}, "text": {"field": "name"},
        "fill": {"field": "typ", "type": "nominal", "legend": null, "scale": {"domain": ["Brücke", "Bauwerk", "Zufluss"], "range": ["#b55ebd", "#a3aa44", "#55b3ab"]}}}
    },
    {
      "data": {"name": "landmarks"},
      "transform": [{"filter": "datum.name === 'Absturz'"}],
      "mark": {"type": "text", "angle": 270, "align": "left", "baseline": "top", "fontSize": 17.5},
      "encoding": {"x": {"field": "km", "type": "quantitative"}, "y": {"datum": 870.5, "type": "quantitative"}, "text": {"field": "name"},
        "fill": {"field": "typ", "type": "nominal", "legend": null}}
    },
    {
      "data": {"name": "landmarks"},
      "transform": [{"filter": "datum.typ === 'Zufluss' && datum.name !== 'Laimbach (Mittenwald)' && datum.name !== 'Gassellahnbach'"}],
      "mark": {"type": "text", "angle": 270, "align": "right", "baseline": "middle", "fontSize": 17.5},
      "encoding": {"x": {"field": "km", "type": "quantitative"}, "y": {"datum": 909, "type": "quantitative"}, "text": {"field": "name"},
        "fill": {"field": "typ", "type": "nominal", "legend": null}}
    },
    {
      "data": {"name": "landmarks"},
      "transform": [{"filter": "datum.name === 'Laimbach (Mittenwald)'"}],
      "mark": {"type": "text", "angle": 270, "align": "right", "baseline": "bottom", "fontSize": 17.5},
      "encoding": {"x": {"field": "km", "type": "quantitative"}, "y": {"datum": 909, "type": "quantitative"}, "text": {"field": "name"},
        "fill": {"field": "typ", "type": "nominal", "legend": null}}
    },
    {
      "data": {"name": "landmarks"},
      "transform": [{"filter": "datum.name === 'Gassellahnbach'"}],
      "mark": {"type": "text", "angle": 270, "align": "right", "baseline": "top", "fontSize": 17.5},
      "encoding": {"x": {"field": "km", "type": "quantitative"}, "y": {"datum": 909, "type": "quantitative"}, "text": {"field": "name"},
        "fill": {"field": "typ", "type": "nominal", "legend": null}}
    }
  ]
}
